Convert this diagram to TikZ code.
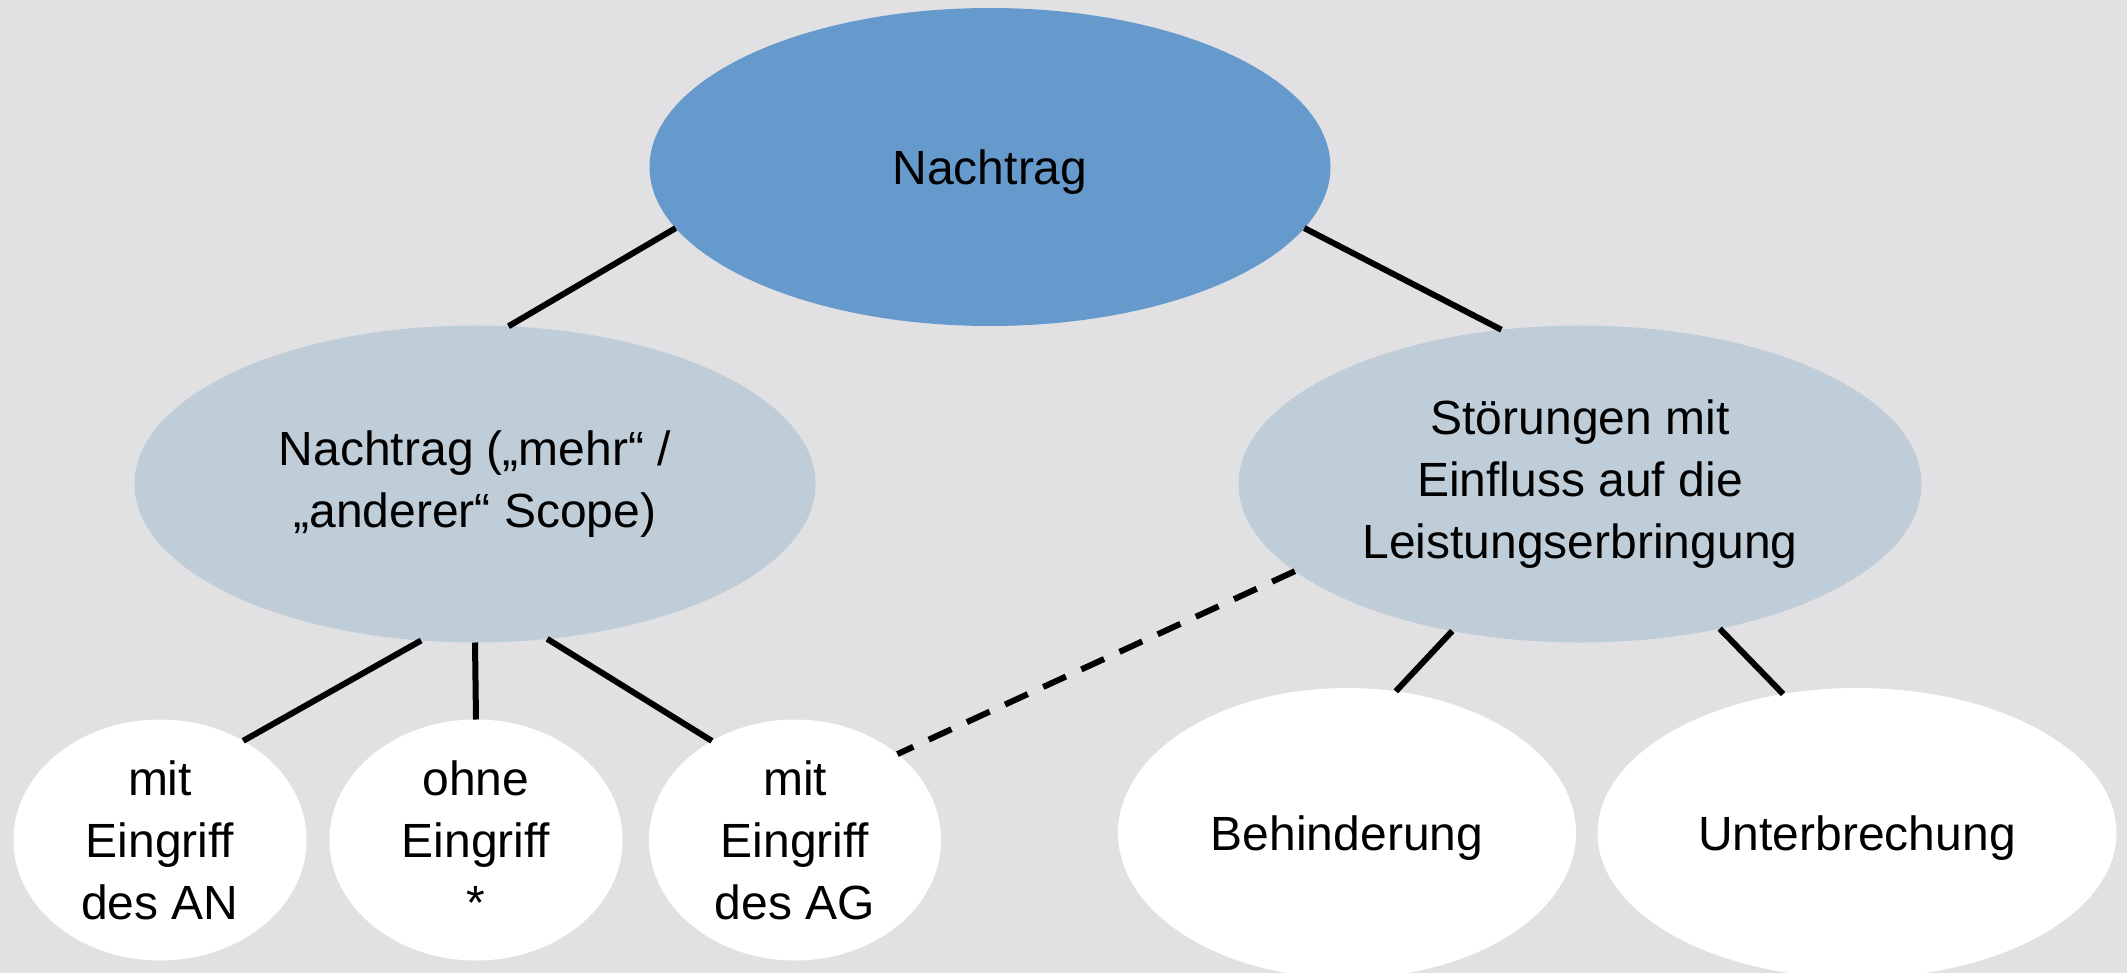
\documentclass[tikz,border=0pt]{standalone}
\usepackage{fontspec}
\setmainfont{Liberation Sans}
\usetikzlibrary{shapes.geometric}
\definecolor{bgc}{HTML}{E1E1E3}
\definecolor{topc}{HTML}{6699CC}
\definecolor{midc}{HTML}{BFCDD8}
\tikzset{
  oval/.style={ellipse, draw=none, inner sep=0pt, outer sep=0pt, align=center,
    font=\fontsize{48}{62}\selectfont, text=black},
  lowtext/.style={execute at begin node={\rule{0pt}{45pt}}},
  topoval/.style={oval, lowtext, fill=topc},
  midoval/.style={oval, lowtext, fill=midc},
  leafoval/.style={oval, fill=white},
  link/.style={line width=6pt, black},
  dlink/.style={link, dash pattern=on 25pt off 17pt}
}
\begin{document}
\begin{tikzpicture}[x=1pt,y=-1pt]
\useasboundingbox (0,0) rectangle (2127,973);
\fill[bgc] (0,0) rectangle (2127,973);
\node[topoval, minimum width=681pt, minimum height=318pt] (top) at (990,167) {Nachtrag};
\node[midoval, minimum width=681pt, minimum height=317pt] (left) at (475,484) {Nachtrag („mehr“ /\\ „anderer“ Scope)};
\node[midoval, minimum width=683pt, minimum height=317pt] (right) at (1580,484) {Störungen mit\\Einfluss auf die\\Leistungserbringung};
\node[leafoval, minimum width=293pt, minimum height=241pt] (an) at (160,840) {mit\\Eingriff\\des AN};
\node[leafoval, minimum width=293pt, minimum height=241pt] (ohne) at (476,840) {ohne\\Eingriff\\*};
\node[leafoval, minimum width=292pt, minimum height=241pt] (ag) at (795,840) {mit\\Eingriff\\des AG};
\node[leafoval, lowtext, minimum width=458pt, minimum height=290pt] (beh) at (1347,833) {Behinderung};
\node[leafoval, lowtext, minimum width=519pt, minimum height=290pt] (unt) at (1857,833) {Unterbrechung};
\draw[link] (top.191.5) -- (left.78);
\draw[link] (top.349.8) -- (right.117.5);
\draw[link] (left.251.9) -- (an.50.1);
\draw[link] (left.270) -- (ohne.90);
\draw[link] (left.295) -- (ag.130.8);
\draw[dlink] (right.197) -- (ag.40.6);
\draw[link] (right.229.5) -- (beh.71.7);
\draw[link] (right.314.5) -- (unt.118.8);
\end{tikzpicture}
\end{document}
